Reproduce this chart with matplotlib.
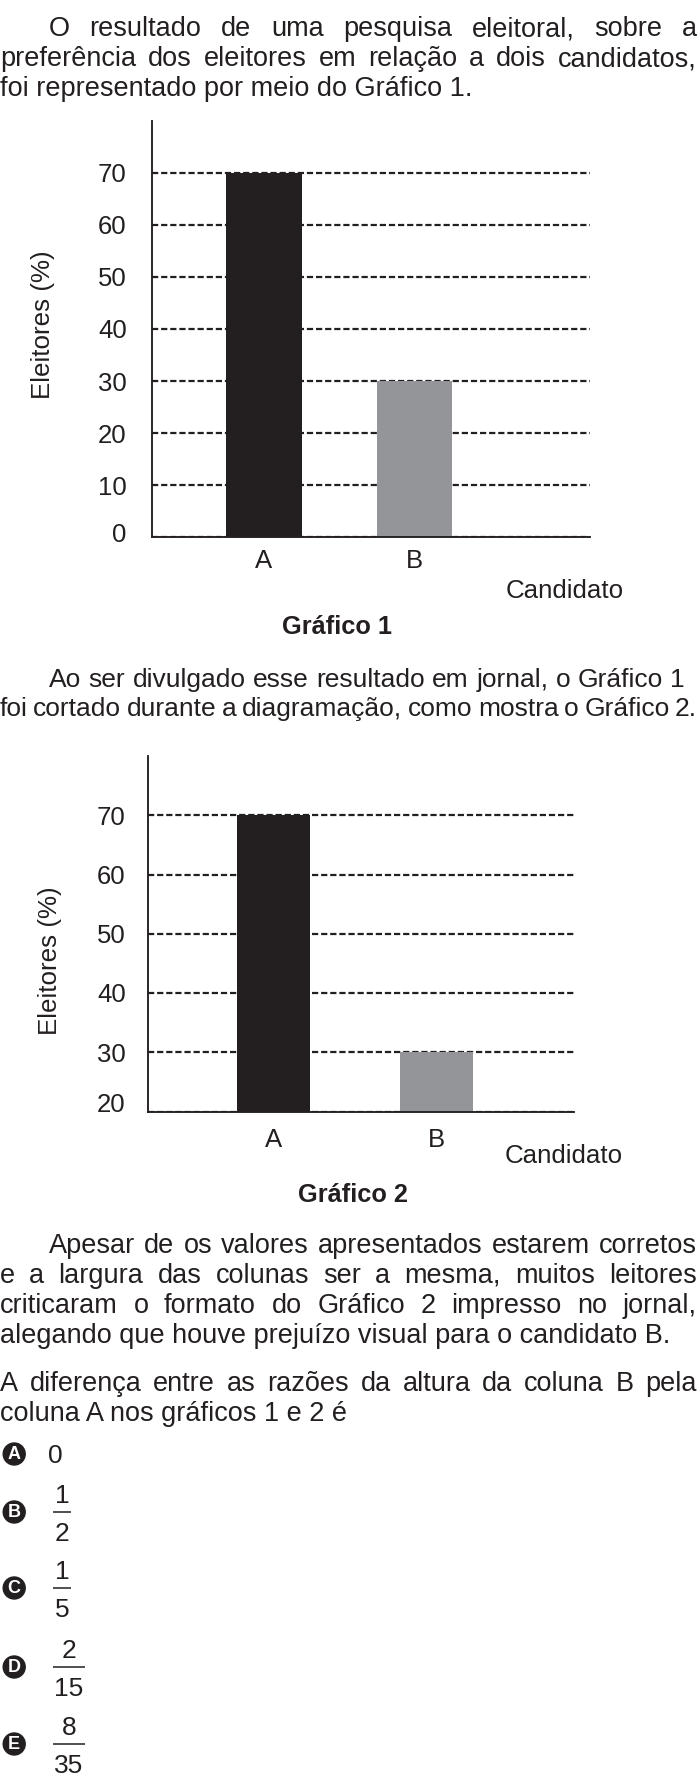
import matplotlib
matplotlib.use('Agg')
import matplotlib.pyplot as plt
from matplotlib.patches import Circle
from matplotlib.transforms import ScaledTranslation

# ---------------- data ----------------
candidates = ['A', 'B']
voters_pct = [70, 30]
g1_yticks = [0, 10, 20, 30, 40, 50, 60, 70]
g2_yticks = [20, 30, 40, 50, 60, 70]
bar_colors = ['#231f20', '#939598']
y_label = 'Eleitores (%)'
x_label = 'Candidato'
titles = ['Gráfico 1', 'Gráfico 2']

para1 = ['O resultado de uma pesquisa eleitoral, sobre a',
         'preferência dos eleitores em relação a dois candidatos,',
         'foi representado por meio do Gráfico 1.']
para2 = ['Ao ser divulgado esse resultado em jornal, o Gráfico 1',
         'foi cortado durante a diagramação, como mostra o Gráfico 2.']
para3 = ['Apesar de os valores apresentados estarem corretos',
         'e a largura das colunas ser a mesma, muitos leitores',
         'criticaram o formato do Gráfico 2 impresso no jornal,',
         'alegando que houve prejuízo visual para o candidato B.']
question = ['A diferença entre as razões da altura da coluna B pela',
            'coluna A nos gráficos 1 e 2 é']
option_letters = ['A', 'B', 'C', 'D', 'E']
option_num = ['0', '1', '1', '2', '8']
option_den = ['', '2', '5', '15', '35']

# ---------------- setup ----------------
W, H = 700, 1791
INK = '#231f20'
FONT = 'Liberation Sans'
BODY = 19.5

fig = plt.figure(figsize=(W / 100, H / 100), dpi=100)
fig.patch.set_facecolor('white')
ov = fig.add_axes([0, 0, 1, 1])
ov.set_xlim(0, W)
ov.set_ylim(H, 0)
ov.axis('off')
renderer = fig.canvas.get_renderer()


def px_rect(l, r, t, b):
    return [l / W, 1 - b / H, (r - l) / W, (b - t) / H]


def txt(x, y, s, size, **kw):
    kw.setdefault('color', INK)
    kw.setdefault('family', FONT)
    return ov.text(x, y, s, fontsize=size, **kw)


def line(s, y, x0, size, x1=None):
    if x1 is None:
        txt(x0, y, s, size, ha='left', va='baseline')
        return
    words = s.split(' ')
    ts = [txt(0, y, w, size, ha='left', va='baseline') for w in words]
    widths = [t.get_window_extent(renderer).width for t in ts]
    gap = (x1 - x0 - sum(widths)) / (len(words) - 1)
    x = x0
    for t, w in zip(ts, widths):
        t.set_x(x)
        x += w + gap


def bar_chart(rect, xlim, ylim, yticks, width, ypad, xpad, low_off):
    ax = fig.add_axes(rect)
    ax.patch.set_alpha(0)
    xs = list(range(len(candidates)))
    ax.bar(xs, voters_pct, width=width, color=bar_colors, zorder=2)
    ax.set_xlim(*xlim)
    ax.set_ylim(*ylim)
    ax.set_yticks(yticks)
    ax.set_xticks(xs)
    ax.set_xticklabels(candidates)
    for s in ['top', 'right']:
        ax.spines[s].set_visible(False)
    for s in ['left', 'bottom']:
        ax.spines[s].set_linewidth(1.35)
        ax.spines[s].set_color(INK)
    ax.tick_params(length=0, labelsize=18.5, labelcolor=INK)
    ax.tick_params(axis='y', pad=ypad)
    ax.tick_params(axis='x', pad=xpad)
    ax.yaxis.grid(True, linestyle=(0, (2.8, 1.3)), linewidth=1.6, color=INK)
    ax.xaxis.grid(False)
    ax.set_axisbelow(True)
    for lab in ax.get_xticklabels() + ax.get_yticklabels():
        lab.set_family(FONT)
    t0 = ax.yaxis.get_major_ticks()[0]
    t0.label1.set_transform(t0.label1.get_transform() +
                            ScaledTranslation(0, low_off / 100, fig.dpi_scale_trans))
    return ax


# ---------------- paragraph 1 ----------------
line(para1[0], 36, 49, BODY, 697)
line(para1[1], 66, 0, BODY, 697)
line(para1[2], 96, 0, BODY)

# ---------------- chart 1 ----------------
bar_chart(px_rect(151.7, 590, 120.8, 537.2), (-0.746, 2.166), (0, 80), g1_yticks,
          0.5, 18.0, 8.5, 5)
txt(43, 325, y_label, 18.7, rotation=90, ha='center', va='center')
txt(506, 598, x_label, 18.6, ha='left', va='baseline')
txt(337, 627, titles[0], 18.3, weight='bold', ha='center', va='center')

# ---------------- paragraph 2 ----------------
line(para2[0], 687, 49, 19, 685)
line(para2[1], 716, 0, 19, 697)

# ---------------- chart 2 ----------------
bar_chart(px_rect(148.3, 574, 756, 1111.5), (-0.769, 1.846), (20, 80), g2_yticks,
          0.45, 16.3, 12, 9)
txt(50, 961, y_label, 18.7, rotation=90, ha='center', va='center')
txt(505, 1163, x_label, 18.6, ha='left', va='baseline')
txt(353, 1195, titles[1], 18.3, weight='bold', ha='center', va='center')

# ---------------- paragraph 3 and question ----------------
line(para3[0], 1253, 49, BODY, 697)
line(para3[1], 1283, 0, BODY, 697)
line(para3[2], 1313, 0, BODY, 697)
line(para3[3], 1343, 0, BODY)
line(question[0], 1391, 0, BODY, 697)
line(question[1], 1421, 0, BODY)

# ---------------- options ----------------
option_y = [1454, 1512, 1588, 1667, 1744]
for L, num, den, y in zip(option_letters, option_num, option_den, option_y):
    ov.add_patch(Circle((14.2, y), 11, color=INK, zorder=3))
    txt(14.2, y + 0.5, L, 13, color='white', weight='bold', ha='center',
        va='center', zorder=4)
    if not den:
        txt(55, y + 9.4, num, 19, ha='center', va='baseline')
        continue
    bw = 18 if len(den) == 1 else 32
    cx = 53 + bw / 2
    ov.plot([53, 53 + bw], [y, y], color=INK, lw=1.1, solid_capstyle='butt')
    txt(cx, y - 8.6, num, 19, ha='center', va='baseline')
    txt(cx, y + 29.4, den, 19, ha='center', va='baseline')

fig.savefig('out.png', dpi=100, facecolor='white')
